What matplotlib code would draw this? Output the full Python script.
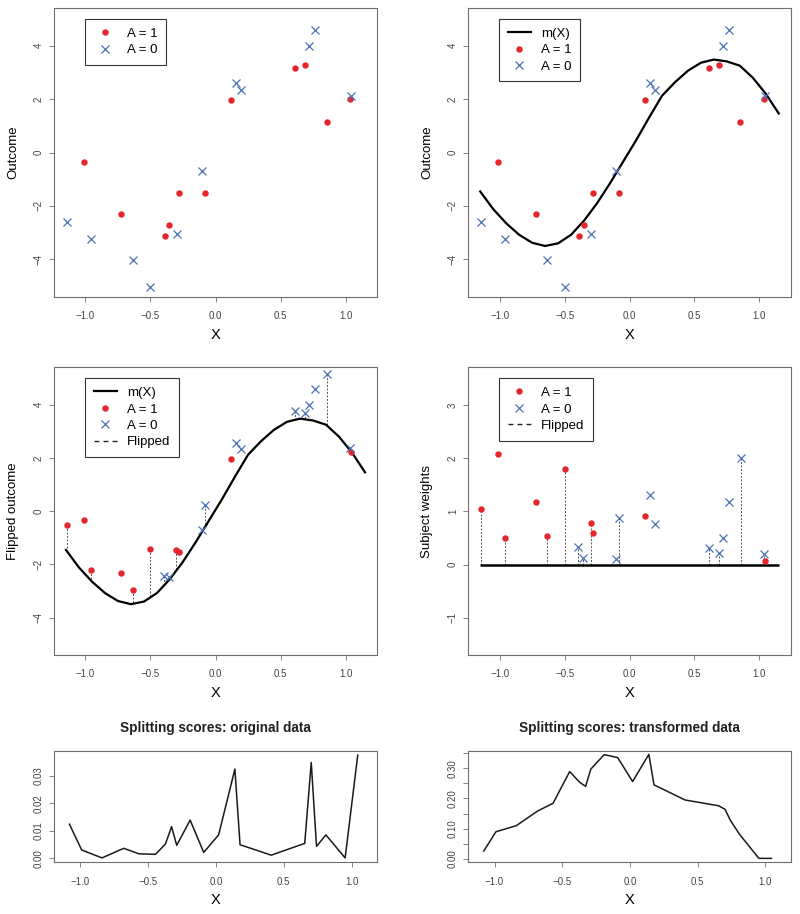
import matplotlib
matplotlib.use("Agg")
import matplotlib.pyplot as plt
import numpy as np
from matplotlib.lines import Line2D
from matplotlib.ticker import FuncFormatter

plt.rcParams["font.family"] = ["Liberation Sans", "DejaVu Sans"]

# original data: treated (A = 1) and control (A = 0)
x_treated = [-1.015, -0.723, -0.392, -0.354, -0.279, -0.079, 0.123, 0.610, 0.687, 0.854, 1.038]
y_treated = [-0.34, -2.31, -3.13, -2.71, -1.52, -1.50, 1.96, 3.16, 3.26, 1.14, 2.01]
x_control = [-1.141, -0.959, -0.636, -0.500, -0.297, -0.105, 0.156, 0.197, 0.718, 0.764, 1.044]
y_control = [-2.60, -3.25, -4.04, -5.03, -3.05, -0.71, 2.60, 2.35, 3.97, 4.57, 2.12]

# fitted m(X)
m_x = [-1.15, -1.05, -0.95, -0.85, -0.75, -0.65, -0.55, -0.45, -0.35, -0.25, -0.15, -0.05,
       0.05, 0.15, 0.25, 0.35, 0.45, 0.55, 0.65, 0.75, 0.85, 0.95, 1.05, 1.15]
m_y = [-1.46, -2.12, -2.65, -3.08, -3.38, -3.50, -3.40, -3.08, -2.55, -1.90, -1.15, -0.35,
       0.45, 1.30, 2.12, 2.63, 3.06, 3.36, 3.48, 3.41, 3.25, 2.80, 2.20, 1.46]

# transformed data (after flipping)
xf_treated = [-1.144, -1.015, -0.959, -0.723, -0.636, -0.500, -0.300, -0.279, 0.123, 1.044]
yf_treated = [-0.52, -0.34, -2.22, -2.31, -2.95, -1.44, -1.46, -1.54, 1.95, 2.23]
wf_treated = [1.04, 2.08, 0.50, 1.17, 0.54, 1.80, 0.78, 0.59, 0.92, 0.07]
flip_treated = [True, False, True, False, True, True, True, False, False, True]
xf_control = [-0.395, -0.356, -0.105, -0.079, 0.156, 0.197, 0.610, 0.687, 0.718, 0.764, 0.859, 1.038]
yf_control = [-2.43, -2.48, -0.72, 0.25, 2.58, 2.35, 3.78, 3.71, 3.98, 4.58, 5.14, 2.37]
wf_control = [0.34, 0.125, 0.10, 0.88, 1.31, 0.755, 0.32, 0.225, 0.50, 1.17, 2.00, 0.19]
flip_control = [True, True, False, True, False, False, True, True, False, False, True, True]

# splitting scores
split_x = [-1.080, -0.990, -0.840, -0.680, -0.568, -0.445, -0.372, -0.327, -0.289, -0.190, -0.090,
           0.020, 0.140, 0.178, 0.408, 0.655, 0.703, 0.742, 0.811, 0.953, 1.046]
score_original = [0.0124, 0.0030, 0.0001, 0.0036, 0.0016, 0.0014, 0.0052, 0.0115, 0.0047, 0.0139, 0.0021,
                  0.0085, 0.0325, 0.0049, 0.0011, 0.0054, 0.0349, 0.0043, 0.0085, 0.0001, 0.0376]
score_transformed = [0.026, 0.090, 0.110, 0.159, 0.184, 0.289, 0.254, 0.240, 0.297, 0.345, 0.335,
                     0.256, 0.346, 0.245, 0.195, 0.176, 0.164, 0.128, 0.081, 0.002, 0.002]

RED = "#E5252B"
BLUE = "#4B70B6"
GREY = "#6E6E6E"
FIG_W, FIG_H = 800, 914
LABEL_SIZE = 9.5
X_TICKS = [-1.0, -0.5, 0.0, 0.5, 1.0]

fig = plt.figure(figsize=(FIG_W / 100, FIG_H / 100), dpi=100)


def add_panel(left, top, width, height):
    ax = fig.add_axes([left / FIG_W, 1 - (top + height) / FIG_H, width / FIG_W, height / FIG_H])
    ax._px = (width, height)
    return ax


def minus(s):
    return s.replace("-", "\u2212")


def style(ax, xlim, ylim, yticks, yfmt, ylabel=None, shown=None):
    w, h = ax._px
    ax.set_xlim(xlim)
    ax.set_ylim(ylim)
    ax.set_xticks(X_TICKS)
    ax.xaxis.set_major_formatter(FuncFormatter(lambda v, _: minus(f"{v:.1f}")))
    ax.set_yticks(yticks)
    if shown is None:
        shown = yticks
    ax.yaxis.set_major_formatter(FuncFormatter(
        lambda v, _: minus(yfmt.format(v)) if any(abs(v - s) < 1e-9 for s in shown) else ""))
    for s in ax.spines.values():
        s.set_color(GREY)
        s.set_linewidth(0.8)
    ax.tick_params(length=3.5, width=0.6, color=GREY, labelsize=7, labelcolor="#444444")
    ax.tick_params(axis="x", pad=6.8)
    ax.tick_params(axis="y", pad=4, labelrotation=90)
    for lab in ax.get_yticklabels():
        lab.set_verticalalignment("center")
    ax.set_xlabel("X", fontsize=LABEL_SIZE + 1)
    ax.xaxis.set_label_coords(0.5, -38 / h)
    ax.xaxis.label.set_verticalalignment("center")
    if ylabel:
        ax.set_ylabel(ylabel, fontsize=LABEL_SIZE)
        ax.yaxis.set_label_coords(-41 / w, 0.5)
        ax.yaxis.label.set_verticalalignment("center")


def legend(ax, handles, labels):
    w, h = ax._px
    leg = ax.legend(handles, labels, loc="upper left", bbox_to_anchor=(31 / w, 1 - 11 / h),
                    borderaxespad=0, fancybox=False, framealpha=1, edgecolor="#333333",
                    fontsize=LABEL_SIZE, handlelength=1.75, handletextpad=0.76,
                    borderpad=0.65, labelspacing=0.32)
    leg.get_frame().set_linewidth(0.8)


h_red = Line2D([], [], ls="none", marker="o", ms=3.6, color=RED)
h_blue = Line2D([], [], ls="none", marker="x", ms=5.5, mew=0.9, color=BLUE)
h_m = Line2D([], [], color="black", lw=1.6)
h_flip = Line2D([], [], color="#222222", lw=1.0, ls=(0, (3.5, 3)))


def scatter_points(ax, xt, yt, xc, yc):
    ax.plot(xt, yt, ls="none", marker="o", ms=3.6, color=RED, zorder=3)
    ax.plot(xc, yc, ls="none", marker="x", ms=5.5, mew=0.9, color=BLUE, zorder=3)


TOP_XLIM = (-1.242, 1.242)
OUT_YLIM = (-5.41, 5.41)

# panel 1: raw data
ax1 = add_panel(54, 8, 323, 289)
scatter_points(ax1, x_treated, y_treated, x_control, y_control)
style(ax1, TOP_XLIM, OUT_YLIM, [-4, -2, 0, 2, 4], "{:.0f}", "Outcome")
legend(ax1, [h_red, h_blue], ["A = 1", "A = 0"])

# panel 2: raw data with m(X)
ax2 = add_panel(468.3, 8, 322.4, 289)
ax2.plot(m_x, m_y, color="black", lw=1.6, zorder=2)
scatter_points(ax2, x_treated, y_treated, x_control, y_control)
style(ax2, TOP_XLIM, OUT_YLIM, [-4, -2, 0, 2, 4], "{:.0f}", "Outcome")
legend(ax2, [h_m, h_red, h_blue], ["m(X)", "A = 1", "A = 0"])

# panel 3: flipped outcomes
ax3 = add_panel(54, 367.3, 323, 287.7)
for xs, ys, fl in [(xf_treated, yf_treated, flip_treated), (xf_control, yf_control, flip_control)]:
    for xv, yv, f in zip(xs, ys, fl):
        if f:
            ax3.plot([xv, xv], [yv, np.interp(xv, m_x, m_y)], color="#555555", lw=0.7,
                     ls=(0, (2, 1.6)), zorder=1)
ax3.plot(m_x, m_y, color="black", lw=1.6, zorder=2)
scatter_points(ax3, xf_treated, yf_treated, xf_control, yf_control)
style(ax3, TOP_XLIM, OUT_YLIM, [-4, -2, 0, 2, 4], "{:.0f}", "Flipped outcome")
legend(ax3, [h_m, h_red, h_blue, h_flip], ["m(X)", "A = 1", "A = 0", "Flipped"])

# panel 4: subject weights
ax4 = add_panel(468.3, 367.3, 322.4, 287.7)
for xs, ws, fl in [(xf_treated, wf_treated, flip_treated), (xf_control, wf_control, flip_control)]:
    for xv, wv, f in zip(xs, ws, fl):
        if f:
            ax4.plot([xv, xv], [0, wv], color="#555555", lw=0.7, ls=(0, (2, 1.6)), zorder=1)
ax4.hlines(0, m_x[0], m_x[-1], color="black", lw=1.8, zorder=2)
scatter_points(ax4, xf_treated, wf_treated, xf_control, wf_control)
style(ax4, TOP_XLIM, (-1.7, 3.71), [-1, 0, 1, 2, 3], "{:.0f}", "Subject weights")
legend(ax4, [h_red, h_blue, h_flip], ["A = 1", "A = 0", "Flipped"])

# panels 5 and 6: splitting scores
BOT_XLIM = (-1.194, 1.188)
ax5 = add_panel(54, 751, 323, 111.3)
ax5.plot(split_x, score_original, color="#1a1a1a", lw=1.1)
style(ax5, BOT_XLIM, (-0.0015, 0.0391), [0.0, 0.01, 0.02, 0.03], "{:.2f}")

ax6 = add_panel(468.3, 751, 322.4, 111.3)
ax6.plot(split_x, score_transformed, color="#1a1a1a", lw=1.1)
style(ax6, BOT_XLIM, (-0.011, 0.357), [0.0, 0.05, 0.10, 0.15, 0.20, 0.25, 0.30, 0.35], "{:.2f}",
      shown=[0.0, 0.10, 0.20, 0.30])

for ax, title in [(ax5, "Splitting scores: original data"), (ax6, "Splitting scores: transformed data")]:
    ax.text(0.5, 1 + 19 / 111.3, title, transform=ax.transAxes, ha="center", va="baseline",
            fontsize=9.8, fontweight="bold", color="#222222")

fig.savefig("out.png", dpi=100)
